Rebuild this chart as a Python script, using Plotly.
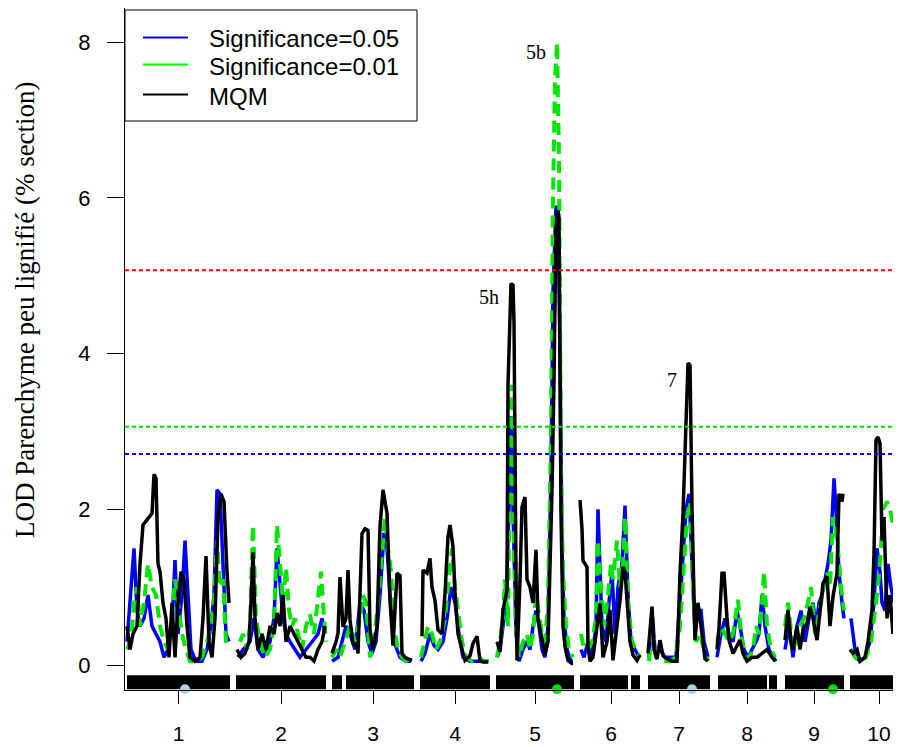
import plotly.graph_objects as go

# ---------------- data ----------------
chrom_names = ["1", "2", "3", "4", "5", "6", "7", "8", "9", "10"]
chrom_len = [206, 180, 164, 140, 156, 124, 124, 124, 120, 116]   # cM
chrom_gap = 12

# MQM (black)
mqm_pos = [
    [0, 6, 12, 20, 26, 32, 38, 44, 50, 54, 58, 62, 66, 72, 78, 84, 90, 96, 102, 108, 114, 120, 126, 136, 146, 152, 158, 164, 170, 176, 182, 188, 194, 200, 204],
    [2, 10, 18, 26, 30, 34, 38, 44, 52, 60, 68, 76, 82, 88, 94, 100, 108, 116, 124, 132, 140, 148, 156, 164, 172, 178],
    [0, 8, 12, 16, 22, 28, 32, 36, 42, 50, 52, 60, 66, 72, 76, 82, 90, 96, 102, 110, 116, 122, 130, 136, 140, 146, 152, 160],
    [4, 6, 14, 20, 24, 30, 36, 44, 50, 56, 60, 66, 70, 76, 84, 90, 100, 106, 114, 120, 126, 136],
    [2, 8, 14, 22, 24, 30, 34, 36, 40, 42, 48, 52, 58, 62, 68, 74, 80, 84, 92, 98, 104, 112, 116, 120, 124, 126, 130, 134, 138, 144, 152, 154],
    [0, 4, 6, 14, 16, 20, 26, 34, 40, 46, 54, 60, 66, 74, 80, 86, 90, 94, 100, 106, 114, 120],
    [0, 8, 12, 18, 24, 30, 38, 48, 58, 64, 70, 78, 80, 84, 88, 94, 100, 108, 114, 120],
    [2, 6, 12, 16, 22, 26, 34, 42, 48, 54, 62, 72, 82, 92, 102, 112, 118],
    [2, 8, 14, 18, 26, 32, 38, 46, 52, 58, 66, 72, 78, 86, 92, 98, 106, 110, 116, 118],
    [0, 6, 14, 20, 30, 36, 44, 48, 52, 56, 60, 64, 68, 74, 80, 86, 92, 98, 104],
]
mqm_lod = [
    [0.5, 0.2, 0.4, 0.5, 1.3, 1.8, 1.85, 1.9, 1.95, 2.45, 2.4, 1.3, 1.2, 0.8, 0.6, 0.1, 0.8, 0.1, 0.8, 1.2, 1.1, 0.5, 0.1, 0.05, 0.1, 0.6, 1.4, 0.3, 0.1, 0.6, 1.9, 2.2, 2.1, 1.2, 0.8],
    [0.2, 0.1, 0.15, 0.3, 0.8, 1.45, 0.6, 0.2, 0.4, 0.2, 0.5, 0.4, 0.67, 0.5, 0.9, 0.3, 0.5, 0.4, 0.3, 0.2, 0.1, 0.1, 0.05, 0.2, 0.3, 0.5],
    [0.15, 0.3, 0.41, 1.13, 0.49, 0.6, 1.22, 0.58, 0.28, 0.25, 0.15, 1.69, 1.75, 1.73, 0.45, 0.2, 0.49, 1.78, 2.25, 1.95, 0.83, 0.25, 1.18, 1.15, 0.15, 0.1, 0.08, 0.06],
    [0.37, 1.22, 1.18, 1.37, 1.0, 0.83, 0.45, 0.4, 0.92, 1.65, 1.8, 1.52, 0.92, 0.4, 0.2, 0.06, 0.12, 0.28, 0.37, 0.05, 0.04, 0.04],
    [0.3, 0.17, 0.71, 0.96, 3.6, 4.9, 4.88, 4.4, 1.2, 0.06, 1.09, 2.03, 2.16, 1.1, 1.0, 0.8, 1.48, 0.6, 0.33, 0.13, 0.3, 2.24, 3.66, 5.63, 5.84, 5.76, 1.95, 0.5, 0.24, 0.06, 0.02, 0.02],
    [2.12, 1.75, 1.34, 1.26, 0.24, 0.05, 0.1, 0.54, 0.79, 0.1, 0.3, 0.71, 0.06, 0.5, 0.83, 1.26, 1.2, 0.83, 0.3, 0.13, 0.06, 0.13],
    [0.15, 0.75, 0.2, 0.08, 0.32, 0.12, 0.08, 0.05, 0.05, 1.18, 1.94, 3.32, 3.88, 3.85, 2.03, 0.32, 0.8, 0.4, 0.08, 0.05],
    [0.2, 0.48, 1.18, 1.18, 0.6, 0.32, 0.15, 0.25, 0.32, 0.15, 0.05, 0.1, 0.1, 0.15, 0.2, 0.1, 0.05],
    [0.32, 0.71, 0.3, 0.2, 0.5, 0.2, 0.45, 0.54, 0.75, 0.6, 0.32, 0.71, 1.05, 1.14, 0.5, 0.88, 1.18, 2.2, 2.1, 2.2],
    [0.2, 0.15, 0.2, 0.05, 0.1, 0.3, 0.71, 1.43, 2.89, 2.93, 2.85, 1.6, 1.9, 0.6, 0.9, 0.4, 1.0, 0.7, 0.9],
]

# Significance=0.05 (blue)
sig05_pos = [
    [0, 8, 14, 20, 26, 34, 42, 50, 58, 66, 74, 82, 90, 96, 102, 110, 116, 122, 128, 138, 150, 160, 168, 174, 180, 186, 192, 198, 204],
    [4, 14, 28, 36, 44, 54, 68, 76, 82, 88, 94, 100, 108, 118, 128, 140, 152, 164, 172, 178],
    [0, 12, 20, 28, 36, 46, 56, 64, 72, 80, 88, 96, 104, 110, 116, 124, 136, 148, 158],
    [2, 10, 20, 28, 36, 46, 54, 62, 70, 78, 86, 100, 116, 130, 138],
    [2, 8, 14, 20, 26, 30, 34, 40, 46, 54, 62, 68, 74, 80, 86, 92, 98, 104, 110, 114, 120, 124, 128, 132, 136, 142, 150, 154],
    [2, 8, 16, 24, 32, 36, 44, 52, 58, 64, 70, 76, 84, 90, 96, 102, 110, 118],
    [2, 8, 14, 24, 34, 44, 56, 64, 70, 76, 82, 88, 94, 100, 106, 112, 120],
    [2, 10, 18, 26, 34, 42, 48, 56, 64, 72, 80, 86, 92, 98, 106, 114, 120],
    [2, 10, 18, 26, 34, 42, 50, 58, 64, 70, 76, 82, 88, 94, 100, 104, 110, 116, 120],
    [2, 6, 12, 20, 30, 40, 48, 54, 60, 64, 70, 76, 82, 88, 94, 100, 106],
]
sig05_lod = [
    [0.3, 1.0, 1.5, 0.7, 0.5, 0.6, 0.9, 0.5, 0.4, 0.3, 0.1, 0.2, 0.5, 1.35, 0.4, 0.9, 1.6, 0.8, 0.2, 0.05, 0.05, 0.2, 0.5, 0.9, 2.25, 2.2, 1.2, 0.4, 0.3],
    [0.1, 0.2, 0.3, 0.6, 0.2, 0.1, 0.3, 0.6, 1.5, 1.1, 0.6, 0.4, 0.3, 0.2, 0.1, 0.2, 0.3, 0.4, 0.6, 0.4],
    [0.05, 0.1, 0.3, 0.5, 0.4, 0.2, 0.8, 0.7, 0.3, 0.15, 0.3, 0.9, 1.7, 1.5, 0.9, 0.3, 0.1, 0.05, 0.05],
    [0.05, 0.15, 0.4, 0.25, 0.2, 0.3, 0.6, 1.0, 0.8, 0.4, 0.1, 0.05, 0.05, 0.05, 0.05],
    [0.1, 0.2, 0.5, 0.8, 2.0, 3.2, 2.0, 0.4, 0.05, 0.2, 0.3, 0.2, 0.5, 0.7, 0.5, 0.2, 0.1, 0.5, 2.5, 4.8, 5.9, 5.8, 4.0, 1.5, 0.6, 0.2, 0.05, 0.05],
    [0.2, 0.1, 0.3, 0.1, 0.5, 2.0, 0.5, 0.3, 0.8, 1.2, 0.4, 1.0, 1.3, 2.05, 0.9, 0.3, 0.2, 0.1],
    [0.1, 0.7, 0.2, 0.2, 0.1, 0.1, 0.1, 0.8, 1.4, 2.0, 2.2, 1.2, 0.4, 0.7, 0.7, 0.3, 0.1],
    [0.1, 0.4, 0.6, 0.4, 0.3, 0.7, 0.5, 0.2, 0.1, 0.2, 0.3, 0.4, 0.9, 0.5, 0.2, 0.1, 0.05],
    [0.2, 0.5, 0.1, 0.5, 0.7, 0.3, 0.6, 0.8, 0.5, 0.8, 0.9, 1.1, 1.3, 1.6, 2.4, 2.0, 1.2, 0.8, 0.6],
    [0.6, 0.4, 0.1, 0.05, 0.1, 0.3, 0.8, 1.5, 1.2, 0.8, 0.7, 1.3, 1.0, 0.8, 1.2, 1.4, 1.2],
]

# Significance=0.01 (green)
sig01_pos = [
    [0, 8, 14, 20, 26, 34, 42, 50, 58, 66, 74, 82, 90, 96, 102, 110, 118, 126, 138, 150, 160, 168, 174, 180, 186, 192, 198, 204],
    [8, 14, 22, 28, 34, 40, 48, 58, 68, 76, 82, 88, 94, 100, 106, 112, 118, 124, 132, 140, 148, 156, 164, 170, 176, 180],
    [0, 8, 16, 26, 36, 46, 56, 62, 68, 76, 84, 92, 100, 106, 112, 118, 124, 132, 140, 148, 158],
    [2, 8, 16, 24, 32, 40, 50, 56, 64, 70, 76, 84, 92, 104, 116, 128, 138],
    [2, 8, 14, 18, 24, 28, 32, 36, 40, 46, 54, 62, 68, 74, 80, 86, 92, 98, 104, 110, 114, 118, 122, 126, 130, 134, 140, 146, 154],
    [2, 8, 16, 24, 32, 36, 42, 48, 56, 62, 66, 74, 80, 86, 90, 96, 104, 112, 120],
    [2, 8, 16, 28, 44, 56, 64, 72, 78, 84, 90, 96, 104, 112, 120],
    [2, 10, 18, 26, 34, 44, 50, 58, 66, 74, 80, 86, 92, 96, 102, 110, 118],
    [2, 8, 16, 24, 32, 40, 48, 54, 62, 68, 74, 80, 86, 92, 98, 102, 108, 114, 120],
    [2, 10, 20, 32, 42, 50, 56, 62, 66, 74, 80, 86, 92, 98, 104],
]
sig01_lod = [
    [0.2, 0.3, 0.8, 1.0, 0.5, 0.8, 1.3, 1.0, 0.9, 0.5, 0.3, 0.2, 0.6, 1.1, 0.8, 0.4, 0.2, 0.05, 0.05, 0.1, 0.3, 0.5, 0.8, 1.6, 1.0, 1.1, 0.3, 0.2],
    [0.3, 0.4, 0.2, 0.5, 1.8, 0.6, 0.3, 0.1, 0.2, 0.5, 1.8, 1.3, 0.8, 1.25, 0.7, 0.5, 0.6, 0.4, 0.2, 0.5, 0.65, 0.4, 0.9, 1.2, 0.6, 0.3],
    [0.1, 0.2, 0.1, 0.3, 0.5, 0.3, 0.6, 0.9, 0.8, 0.1, 0.3, 0.8, 1.4, 1.9, 1.5, 1.2, 0.5, 0.2, 0.1, 0.05, 0.1],
    [0.1, 0.3, 0.5, 0.4, 0.2, 0.3, 0.6, 1.0, 1.5, 1.0, 0.7, 0.3, 0.1, 0.05, 0.1, 0.05, 0.05],
    [0.1, 0.3, 0.6, 1.1, 0.5, 2.9, 3.6, 1.5, 0.5, 0.1, 0.3, 0.4, 0.2, 0.4, 0.9, 0.6, 0.4, 0.3, 0.8, 3.0, 6.0, 7.5, 8.0, 6.5, 2.5, 1.2, 0.5, 0.2, 0.1],
    [0.4, 0.2, 0.2, 0.3, 0.6, 1.6, 1.0, 0.5, 0.9, 1.3, 1.1, 1.6, 1.0, 1.3, 1.9, 0.8, 0.3, 0.2, 0.1],
    [0.05, 0.5, 0.1, 0.05, 0.05, 0.1, 0.5, 1.2, 1.9, 2.1, 1.0, 0.3, 0.4, 0.2, 0.05],
    [0.3, 0.5, 0.4, 0.3, 0.4, 0.84, 0.4, 0.1, 0.1, 0.2, 0.5, 0.4, 0.8, 1.2, 0.5, 0.2, 0.1],
    [0.5, 0.8, 0.3, 0.2, 0.5, 0.6, 0.8, 1.0, 0.4, 0.6, 0.8, 1.0, 1.2, 1.0, 1.9, 1.8, 1.5, 1.0, 0.7],
    [0.2, 0.1, 0.05, 0.1, 0.3, 0.7, 1.0, 1.5, 2.0, 2.1, 2.0, 1.8, 1.9, 2.0, 1.8],
]

# significance thresholds (horizontal dotted lines)
threshold_values = [2.71, 3.06, 5.07]
threshold_colors = ["#0000FF", "#00E000", "#FF0000"]

# marker coverage along each chromosome (cM start, end)
marker_segments = [
    [(0, 206)],
    [(0, 180)],
    [(0, 20), (28, 164)],
    [(0, 140)],
    [(0, 156)],
    [(0, 96), (102, 120)],
    [(0, 124)],
    [(4, 102), (106, 122)],
    [(2, 120)],
    [(0, 116)],
]

# cofactor markers (chromosome index, cM, colour)
cofactor_chr = [0, 4, 6, 8]
cofactor_pos = [116, 122, 88, 98]
cofactor_col = ["#A8D4E4", "#00E000", "#A8D4E4", "#00E000"]

# peak labels (chromosome index, cM, text)
peak_chr = [4, 4, 6]
peak_pos = [30, 122, 80]
peak_txt = ["5h", "5b", "7"]
peak_series = ["mqm", "sig01", "mqm"]

# legend entries
legend_names = ["Significance=0.05", "Significance=0.01", "MQM"]
legend_colors = ["#0000FF", "#00FF00", "black"]

# ---------------- build ----------------
offsets = []
acc = 0
for L in chrom_len:
    offsets.append(acc)
    acc += L + chrom_gap
mids = [o + L / 2 for o, L in zip(offsets, chrom_len)]


def genome(pos_lists, lod_lists):
    xs, ys = [], []
    for i, (p, v) in enumerate(zip(pos_lists, lod_lists)):
        xs += [offsets[i] + q for q in p] + [None]
        ys += list(v) + [None]
    return xs, ys


# page is rendered with an 8px body margin: plot area spans page px
# x 125..909 and y 8..690
PX0, PW, PY1, PH = 125.0, 784.0, 690.0, 682.0


def px2paper(px, py):
    return (px - PX0) / PW, (PY1 - py) / PH


fig = go.Figure()

BLUE = "#0000FF"
GREEN = "#00E600"

bx, by = genome(sig05_pos, sig05_lod)
fig.add_trace(go.Scatter(x=bx, y=by, mode="lines", name=legend_names[0],
                         line=dict(color=BLUE, width=3.5),
                         showlegend=False, connectgaps=False, hoverinfo="skip"))
gx, gy = genome(sig01_pos, sig01_lod)
fig.add_trace(go.Scatter(x=gx, y=gy, mode="lines", name=legend_names[1],
                         line=dict(color=GREEN, width=4, dash="12px,7px"),
                         showlegend=False, connectgaps=False, hoverinfo="skip"))
mx, my = genome(mqm_pos, mqm_lod)
fig.add_trace(go.Scatter(x=mx, y=my, mode="lines", name=legend_names[2],
                         line=dict(color="black", width=3.5),
                         showlegend=False, connectgaps=False, hoverinfo="skip"))

# marker strip
STRIP_LO, STRIP_HI = -0.31, -0.13
sx, sy = [], []
for i, segs in enumerate(marker_segments):
    for a, b in segs:
        xa, xb = offsets[i] + a, offsets[i] + b
        sx += [xa, xb, xb, xa, xa, None]
        sy += [STRIP_LO, STRIP_LO, STRIP_HI, STRIP_HI, STRIP_LO, None]
fig.add_trace(go.Scatter(x=sx, y=sy, mode="lines", fill="toself", fillcolor="black",
                         line=dict(color="black", width=0), showlegend=False, hoverinfo="skip"))

# cofactor dots
fig.add_trace(go.Scatter(x=[offsets[c] + p for c, p in zip(cofactor_chr, cofactor_pos)],
                         y=[STRIP_LO] * len(cofactor_chr), mode="markers",
                         marker=dict(color=cofactor_col, size=10, line=dict(width=0)),
                         showlegend=False, cliponaxis=False, hoverinfo="skip"))

for v, c in zip(threshold_values, threshold_colors):
    fig.add_hline(y=v, line=dict(color=c, width=2, dash="4px,3px"))

series_lookup = {"mqm": (mqm_pos, mqm_lod), "sig01": (sig01_pos, sig01_lod)}
shifts = [(-22, -13), (-21, -10), (-16, -17)]
for c, p, t, s, (dx, dy) in zip(peak_chr, peak_pos, peak_txt, peak_series, shifts):
    P, V = series_lookup[s]
    k = P[c].index(p)
    fig.add_annotation(x=offsets[c] + p, y=V[c][k], text=t, showarrow=False,
                       xshift=dx, yshift=dy,
                       font=dict(family="Liberation Serif, Times New Roman, serif", size=20, color="black"))

# y-axis title
tx, ty = px2paper(25, 310)
fig.add_annotation(xref="paper", yref="paper", x=tx, y=ty,
                   text="LOD Parenchyme peu lignifié (% section)", textangle=-90,
                   showarrow=False, xanchor="center", yanchor="middle",
                   font=dict(family="Liberation Serif, Times New Roman, serif", size=27, color="black"))

# legend box (drawn like R's legend())
lx0, ly0 = px2paper(125, 121)
lx1, ly1 = px2paper(417, 10)
fig.add_shape(type="rect", xref="paper", yref="paper", x0=lx0, y0=ly0, x1=lx1, y1=ly1,
              line=dict(color="black", width=1), fillcolor="white", layer="above")
row_y = [37.5, 64.5, 94.5]
for name, col, ry in zip(legend_names, legend_colors, row_y):
    sx0, syy = px2paper(143, ry)
    sx1, _ = px2paper(188, ry)
    fig.add_shape(type="line", xref="paper", yref="paper", x0=sx0, x1=sx1, y0=syy, y1=syy,
                  line=dict(color=col, width=2), layer="above")
    tx0, tyy = px2paper(207, ry + 1.5)
    fig.add_annotation(xref="paper", yref="paper", x=tx0, y=tyy, text=name,
                       showarrow=False, xanchor="left", yanchor="middle",
                       font=dict(family="Liberation Sans, Arial, sans-serif", size=24, color="black"))

fig.update_layout(
    width=901, height=747,
    margin=dict(l=117, r=0, t=0, b=65),
    paper_bgcolor="white", plot_bgcolor="white",
    showlegend=False,
    font=dict(family="Liberation Sans, Arial, sans-serif", color="black"),
    xaxis=dict(range=[-4, 1564], tickmode="array", tickvals=mids, ticktext=chrom_names,
               ticks="outside", ticklen=13, tickwidth=1, tickcolor="black",
               showline=True, linecolor="black", linewidth=1, mirror=True,
               showgrid=False, zeroline=False, tickfont=dict(size=21),
               ticklabelstandoff=12, automargin=False),
    yaxis=dict(range=[-0.32, 8.44], tickvals=[0, 2, 4, 6, 8],
               ticks="outside", ticklen=17, tickwidth=1, tickcolor="black",
               showline=True, linecolor="black", linewidth=1, mirror=False,
               showgrid=False, zeroline=False, tickfont=dict(size=22),
               ticklabelstandoff=12, automargin=False),
)

fig.write_html("out.html")
